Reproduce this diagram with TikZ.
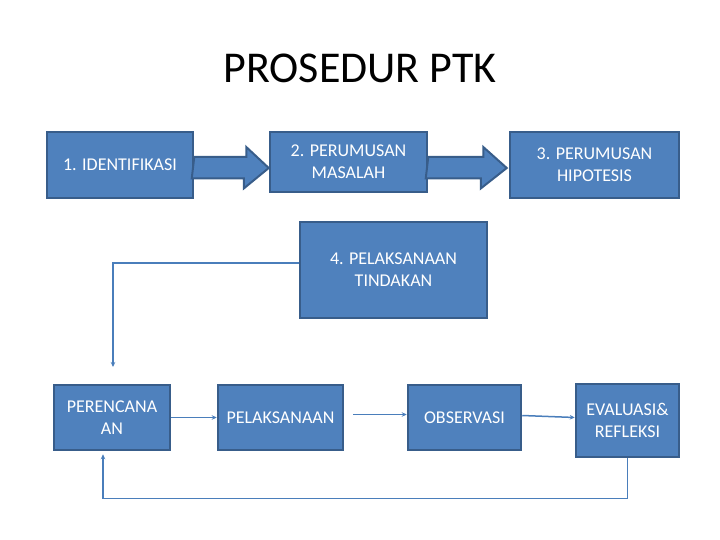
\documentclass[tikz,border=0pt]{standalone}
\usepackage{fontspec}
\setmainfont{Carlito}
\usetikzlibrary{arrows.meta,calc}
\definecolor{boxfill}{HTML}{4F81BD}
\definecolor{boxline}{HTML}{385D8A}
\definecolor{connc}{HTML}{4A7EBB}
\begin{document}
\begin{tikzpicture}[x=1bp,y=-1bp,
 box/.style={draw=boxline,fill=boxfill,line width=2.5bp,text=white,font=\fontsize{18bp}{22bp}\selectfont,align=center,inner sep=0pt},
 conn/.style={draw=connc,line width=1.5bp},
 tipped/.style={-{Stealth[length=5bp,width=4.5bp]}},
 barrow/.style={draw=boxline,fill=boxfill,line width=2bp,line join=miter}]
\useasboundingbox (0,0) rectangle (720,540);
\node[font=\fontsize{44bp}{52bp}\selectfont] (title) at (360,68) {PROSEDUR PTK};
% block arrows (drawn first)
\coordinate (a1s) at (193,168);
\coordinate (a2s) at (427,168);
\node[box,minimum width=146bp,minimum height=66bp] (id) at (120,165) {1. IDENTIFIKASI};
\node[box,minimum width=157bp,minimum height=60bp] (pm) at (348.5,162) {2. PERUMUSAN\\MASALAH};
\node[box,minimum width=169bp,minimum height=66bp] (ph) at (594.5,165) {3. PERUMUSAN\\HIPOTESIS};
\draw[barrow] ($(id.east |- a1s)+(0,-11)$) -- ++(52,0) -- ++(0,-10) -- ($(pm.west |- a1s)$) -- ++(-25,20.5) -- ++(0,-10) -- ++(-52,0) -- cycle;
\draw[barrow] ($(pm.east |- a2s)+(0,-11)$) -- ++(55,0) -- ++(0,-10) -- ($(ph.west |- a2s)+(-2,0)$) -- ++(-26,20.5) -- ++(0,-10) -- ++(-55,0) -- cycle;
\node[box,minimum width=187bp,minimum height=96bp] (pt) at (393.5,270) {4. PELAKSANAAN\\TINDAKAN};
\node[box,minimum width=116bp,minimum height=65bp] (per) at (112,417.5) {PERENCANA\\AN};
\node[box,minimum width=125bp,minimum height=65bp] (pel) at (280.5,417.5) {PELAKSANAAN};
\node[box,minimum width=113bp,minimum height=65bp] (obs) at (464.5,417.5) {OBSERVASI};
\node[box,minimum width=103bp,minimum height=73bp] (eva) at (627.5,420.5) {EVALUASI\&\\REFLEKSI};
% connectors
\coordinate (fb1) at (113,367);
\draw[conn,tipped] ($(pt.west)+(0,-7)$) -| (fb1);
\draw[conn,tipped] (per.east) -- (pel.west);
\draw[conn,tipped] ($(pel.east)+(9,-3)$) -- ($(obs.west)+(0,-3)$);
\draw[conn,tipped] ($(obs.east)+(0,-2)$) -- ($(eva.west)+(0,-3)$);
\draw[conn,tipped] (eva.south) -- ++(0,40) -| ($(per.south)+(-9,3)$);
\end{tikzpicture}
\end{document}
